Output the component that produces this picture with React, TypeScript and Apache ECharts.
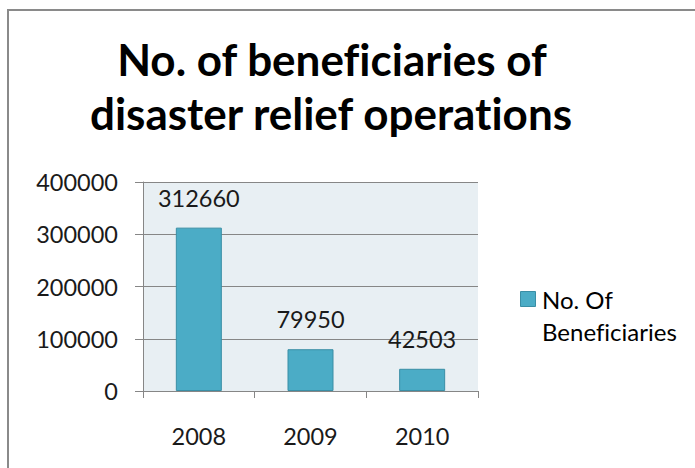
import React, { useEffect, useRef } from "react";
import * as echarts from "echarts";

const titleLines = ["No. of beneficiaries of", "disaster relief operations"];
const categories = ["2008", "2009", "2010"];
const seriesName = "No. Of Beneficiaries";
const legendLines = ["No. Of", "Beneficiaries"];
const values = [312660, 79950, 42503];
const yMax = 400000;
const yInterval = 100000;

const FONT = "Lato, 'Open Sans', sans-serif";
const BAR = "#4bacc6";
const BAR_BORDER = "#3a8ea5";
const NUM_SIZE = 23.5;

export default function App() {
  const ref = useRef<HTMLDivElement>(null);
  useEffect(() => {
    if (!ref.current) return;
    const chart = echarts.init(ref.current, undefined, { renderer: "svg" });
    const textStyle = (text: string, x: number, y: number, font: string, align = "center") => ({
      type: "text",
      x,
      y,
      silent: true,
      style: {
        text,
        font,
        fill: "#000",
        align,
        verticalAlign: "middle",
        textAlign: align,
        textVerticalAlign: "middle",
      },
    });
    chart.setOption({
      animation: false,
      backgroundColor: "#ffffff",
      textStyle: { fontFamily: FONT },
      graphic: [
        {
          type: "rect",
          shape: { x: 8, y: 10, width: 720, height: 520 },
          style: { fill: "none", stroke: "#8a8a8a", lineWidth: 2 },
          silent: true,
        },
        textStyle(titleLines[0], 332, 59, `bold 44px ${FONT}`),
        textStyle(titleLines[1], 331, 113, `bold 44px ${FONT}`),
        {
          type: "rect",
          shape: { x: 520.5, y: 291.5, width: 15, height: 15 },
          style: { fill: BAR, stroke: BAR_BORDER, lineWidth: 1 },
          silent: true,
        },
        textStyle(legendLines[0], 542, 299, `24px ${FONT}`, "left"),
        textStyle(legendLines[1], 542, 331, `24px ${FONT}`, "left"),
      ],
      legend: { show: false, data: [seriesName] },
      grid: {
        left: 143,
        right: 217,
        top: 182,
        bottom: 77,
        show: true,
        backgroundColor: "#e8eff3",
        borderWidth: 0,
      },
      xAxis: {
        type: "category",
        data: categories,
        axisLine: { show: true, lineStyle: { color: "#868686", width: 1 } },
        axisTick: { show: true, length: 7, lineStyle: { color: "#868686" } },
        axisLabel: { margin: 33, fontSize: NUM_SIZE, color: "#1a1a1a", fontFamily: FONT },
      },
      yAxis: {
        type: "value",
        min: 0,
        max: yMax,
        interval: yInterval,
        axisLine: { show: true, lineStyle: { color: "#868686", width: 1 } },
        axisTick: { show: true, length: 8, lineStyle: { color: "#868686" } },
        axisLabel: {
          margin: 25,
          fontSize: NUM_SIZE,
          color: "#1a1a1a",
          fontFamily: FONT,
          formatter: (v: number) => String(v),
        },
        splitLine: { show: true, lineStyle: { color: "#868686", width: 1 } },
      },
      series: [
        {
          name: seriesName,
          type: "bar",
          data: values,
          barWidth: 46,
          itemStyle: { color: BAR, borderColor: BAR_BORDER, borderWidth: 1 },
          label: {
            show: true,
            position: "top",
            distance: 18,
            fontSize: NUM_SIZE,
            color: "#1a1a1a",
            fontFamily: FONT,
          },
        },
      ],
    });
    return () => chart.dispose();
  }, []);
  return (
    <>
      <style>{"svg text, svg tspan { font-variant-ligatures: none !important; font-feature-settings: 'liga' 0, 'clig' 0 !important; }"}</style>
      <div
        ref={ref}
        style={{ position: "fixed", left: 0, top: 0, width: 695, height: 468 }}
      />
    </>
  );
}
